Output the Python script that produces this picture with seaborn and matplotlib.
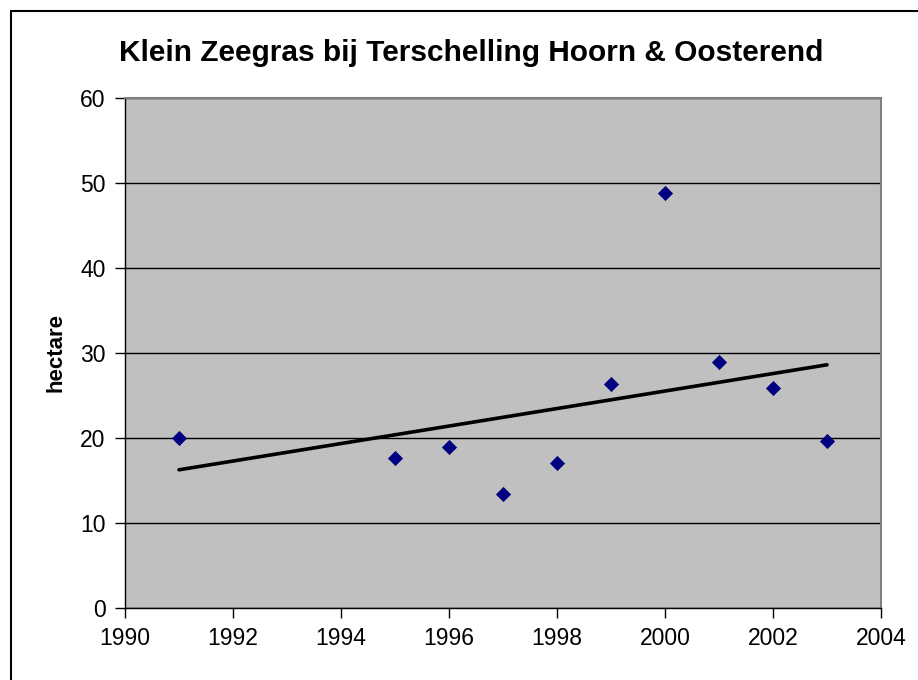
import numpy as np
import pandas as pd
import seaborn as sns
import matplotlib.pyplot as plt
from matplotlib.patches import Rectangle

# data
years = [1991, 1995, 1996, 1997, 1998, 1999, 2000, 2001, 2002, 2003]
hectare = [20.0, 17.7, 18.9, 13.4, 17.1, 26.3, 48.8, 28.9, 25.9, 19.7]
title = "Klein Zeegras bij Terschelling Hoorn & Oosterend"
y_label = "hectare"

df = pd.DataFrame({"jaar": years, "hectare": hectare})

sns.set_theme(style="white")
plt.rcParams['font.family'] = ['Liberation Sans', 'DejaVu Sans']
plt.rcParams['text.color'] = 'black'
plt.rcParams['axes.labelcolor'] = 'black'
plt.rcParams['xtick.color'] = 'black'
plt.rcParams['ytick.color'] = 'black'

fig = plt.figure(figsize=(9.18, 6.8), dpi=100)
ax = fig.add_axes([0.1362, 0.1059, 0.8235, 0.75])
ax.set_facecolor('#C0C0C0')

# trend line (linear fit), then the points on top
sns.regplot(data=df, x="jaar", y="hectare", scatter=False, ci=None, truncate=True,
            line_kws=dict(color='black', linewidth=2.6, solid_capstyle='round'), ax=ax)
sns.scatterplot(data=df, x="jaar", y="hectare", marker='D', s=60, color='#000080',
                edgecolor='#000080', linewidth=0, ax=ax, zorder=4)

ax.set_xlim(1990, 2004)
ax.set_ylim(0, 60)
ax.set_xticks(np.arange(1990, 2005, 2))
ax.set_yticks(np.arange(0, 61, 10))
ax.yaxis.grid(True, color='black', linewidth=1)
ax.set_axisbelow(True)

for side in ['left', 'bottom']:
    ax.spines[side].set_color('black')
    ax.spines[side].set_linewidth(1)
for side in ['top', 'right']:
    ax.spines[side].set_color('#808080')
    ax.spines[side].set_linewidth(1.5)

ax.tick_params(axis='both', direction='out', length=7, width=1, color='black',
               labelcolor='black', labelsize=16.5, pad=7, left=True, bottom=True)
ax.set_xlabel("")
ax.set_ylabel(y_label, fontsize=16, fontweight='bold', labelpad=10)

# title sits centred on the whole chart, not on the plot area
fig.text(471 / 918, 1 - 53 / 680, title, fontsize=21.5, fontweight='bold',
         ha='center', va='center', color='black')

# outer chart frame
fig.patches.append(Rectangle((11 / 918, -0.1), 1.2, 1 - 11 / 680 + 0.1,
                             transform=fig.transFigure, fill=False,
                             edgecolor='black', linewidth=1.5))

fig.savefig("out.png", dpi=100)
